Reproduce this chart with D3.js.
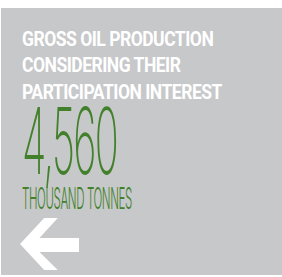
<!DOCTYPE html>
<html>
<head>
<meta charset="utf-8">
<script src="https://cdn.jsdelivr.net/npm/d3@7"></script>
<style>
	html, body { margin: 0; padding: 0; background: #fff; }
	svg { display: block; }
</style>
</head>
<body>
<div id="chart"></div>
<script>
var WIDTH = 282;
var HEIGHT = 277;

// the figure being shown
var titleLines = ["GROSS OIL PRODUCTION", "CONSIDERING THEIR", "PARTICIPATION INTEREST"];
var values = [4560];
var units = ["THOUSAND TONNES"];

var BG = "#c7c8ca";
var GREEN = "#43802b";

var svg = d3.select('#chart').append('svg')
		.attr('width', WIDTH).attr('height', HEIGHT);

// panel
svg.append('rect')
	.attr('x', 1).attr('y', 8)
	.attr('width', WIDTH - 1).attr('height', 267)
	.attr('fill', BG);

var left = 22;

// squeeze a selection horizontally so its widest text is w pixels
function squeeze(sel, w) {
	var widest = d3.max(sel.selectAll('text').nodes(), function(n) { return n.getComputedTextLength(); });
	sel.attr('transform', 'translate(' + left + ',0) scale(' + (w / widest) + ',1) translate(' + (-left) + ',0)');
}

// title block, condensed bold caps
var lineY = d3.scalePoint().domain(d3.range(titleLines.length)).range([46, 99]);
var title = svg.append('g');
title.selectAll('text').data(titleLines).enter().append('text')
	.attr('x', left)
	.attr('y', function(d, i) { return lineY(i); })
	.attr('fill', '#fff')
	.attr('font-family', 'Roboto, "Liberation Sans", sans-serif')
	.attr('font-weight', 'bold')
	.attr('font-size', 21)
	.attr('letter-spacing', -0.6)
	.text(function(d) { return d; });
squeeze(title, 200);

// the big number, thin and tall
var fmt = d3.format(',');
var num = svg.append('g');
num.append('text')
	.attr('x', left).attr('y', 174)
	.attr('fill', GREEN)
	.attr('font-family', 'Inter, Roboto, sans-serif')
	.attr('font-weight', 200)
	.attr('font-size', 92)
	.attr('letter-spacing', -4)
	.text(fmt(values[0]));
squeeze(num, 95);

var unit = svg.append('g');
unit.append('text')
	.attr('x', left).attr('y', 209)
	.attr('fill', GREEN)
	.attr('font-family', 'Inter, Roboto, sans-serif')
	.attr('font-weight', 300)
	.attr('font-size', 30)
	.attr('letter-spacing', -1)
	.text(units[0]);
squeeze(unit, 110);

// back arrow, shape in unit box scaled to its place
var arrowShape = [[0, 0.5], [0.41, 0], [0.64, 0], [0.33, 0.385], [1, 0.385], [1, 0.654],
	[0.33, 0.654], [0.64, 1], [0.41, 1], [0, 0.5]];
var ax = d3.scaleLinear().domain([0, 1]).range([20, 79]);
var ay = d3.scaleLinear().domain([0, 1]).range([218, 270]);
svg.append('path')
	.attr('d', d3.line().x(function(d) { return ax(d[0]); }).y(function(d) { return ay(d[1]); })(arrowShape))
	.attr('fill', '#fff');
</script>
</body>
</html>
